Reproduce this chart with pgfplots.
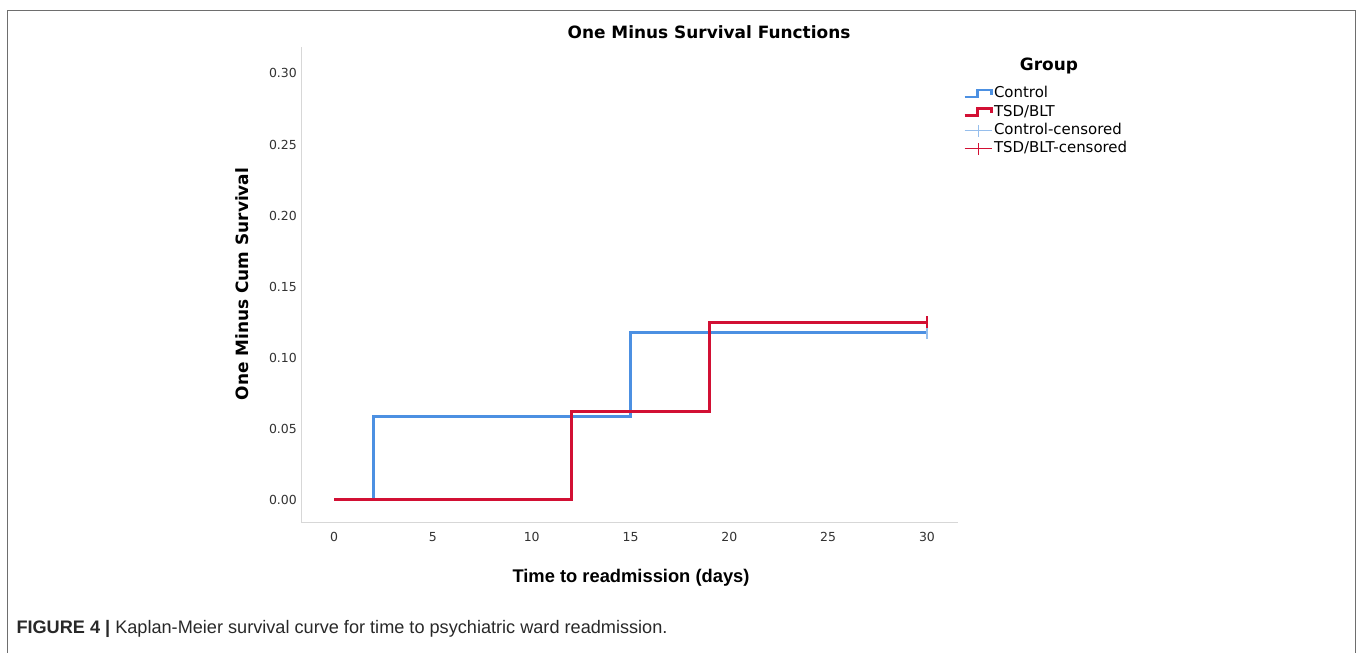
\documentclass[border=0pt]{standalone}
\usepackage{pgfplots}
\pgfplotsset{compat=1.18}
\usepackage{fontspec}
\setmainfont{DejaVu Sans}
\newfontfamily\arialfont{Liberation Sans}
\definecolor{ctrl}{RGB}{76,144,226}
\definecolor{tsd}{RGB}{210,16,52}
\definecolor{ctrlc}{RGB}{150,190,236}
\definecolor{axgray}{RGB}{215,215,215}
\definecolor{framec}{RGB}{110,110,110}
\definecolor{tickc}{RGB}{50,50,50}
\definecolor{capc}{RGB}{40,40,40}

\begin{document}
\begin{tikzpicture}[x=1bp,y=1bp]
\useasboundingbox (0,0) rectangle (1358,653);
\draw[framec, line width=1.5bp] (7.5,0) -- (7.5,642.5) -- (1355.5,642.5) -- (1355.5,0);
\begin{axis}[
  at={(301bp,130bp)}, anchor=south west,
  scale only axis, width=657bp, height=476bp,
  xmin=-1.67, xmax=31.57, ymin=-0.0162, ymax=0.3186,
  axis x line*=bottom, axis y line*=left,
  axis line style={draw=axgray, line width=1bp},
  xtick={0,5,10,15,20,25,30},
  ytick={0,0.05,0.1,0.15,0.2,0.25,0.3},
  scaled y ticks=false,
  major tick length=0pt, tick style={draw=none},
  /pgf/number format/assume math mode=true,
  ticklabel style={font=\fontsize{12.5}{14}\selectfont, text=tickc},
  yticklabel style={inner sep=0pt, xshift=-4bp, /pgf/number format/.cd, fixed, fixed zerofill, precision=2, /tikz/.cd},
  xticklabel style={inner sep=0pt, yshift=-9bp},
  every axis title shift=0pt,
  title={One Minus Survival Functions},
  title style={at={(rel axis cs:0.621,1.0168)}, anchor=base, font=\bfseries\fontsize{17}{20}\selectfont},
  xlabel={Time to readmission (days)},
  xlabel style={at={(rel axis cs:0.5023,-0.1260)}, anchor=base, font=\arialfont\bfseries\fontsize{18.4}{22}\selectfont},
  ylabel={One Minus Cum Survival},
  ylabel style={at={(rel axis cs:-0.0898,0.502)}, anchor=center, font=\bfseries\fontsize{17}{20}\selectfont},
  legend style={at={(rel axis cs:1.0076,0.919)}, anchor=north west, draw=none, fill=none, inner sep=0pt, row sep=1.8bp,
    font=\fontsize{15}{17}\selectfont, nodes={inner sep=1bp, text height=11bp, text depth=3.5bp}},
  legend cell align=left,
  clip=false,
]
\addplot[const plot, ctrl, line width=3bp,
  legend image code/.code={\draw[ctrl, line width=2.8bp] (0bp,-3bp) -- (13bp,-3bp) -- (13bp,4bp) -- (27bp,4bp) -- (27bp,-1bp);}]
  coordinates {(0,0) (2,0.0588) (15,0.1176) (30,0.1176)};
\addlegendentry{Control}
\addplot[const plot, tsd, line width=3bp,
  legend image code/.code={\draw[tsd, line width=2.8bp] (0bp,-3bp) -- (13bp,-3bp) -- (13bp,4bp) -- (27bp,4bp) -- (27bp,-1bp);}]
  coordinates {(0,0) (12,0.0625) (19,0.125) (30,0.125)};
\addlegendentry{TSD/BLT}
\addplot[only marks, mark=|, mark size=6bp, mark options={ctrlc, line width=1.5bp},
  legend image code/.code={\draw[ctrlc, line width=1.2bp] (0bp,0bp) -- (27bp,0bp); \draw[ctrlc, line width=1.2bp] (13.5bp,-6bp) -- (13.5bp,6bp);}]
  coordinates {(30,0.1176)};
\addlegendentry{Control-censored}
\addplot[only marks, mark=|, mark size=6bp, mark options={tsd, line width=1.5bp},
  legend image code/.code={\draw[tsd, line width=1.2bp] (0bp,0bp) -- (27bp,0bp); \draw[tsd, line width=1.2bp] (13.5bp,-6bp) -- (13.5bp,6bp);}]
  coordinates {(30,0.125)};
\addlegendentry{TSD/BLT-censored}
\node[anchor=base, font=\bfseries\fontsize{17}{20}\selectfont] at (rel axis cs:1.1385,0.9496) {Group};
\end{axis}
\node[anchor=base west, font=\arialfont\fontsize{18.2}{21}\selectfont, text=capc] at (13,19) {\textbf{FIGURE 4 |} Kaplan-Meier survival curve for time to psychiatric ward readmission.};
\end{tikzpicture}
\end{document}
